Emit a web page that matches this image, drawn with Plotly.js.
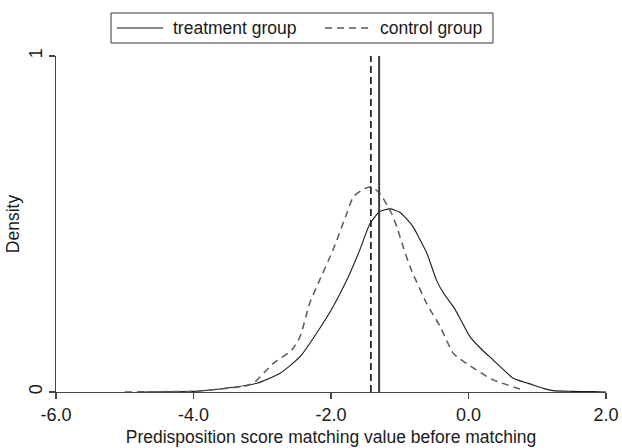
<!DOCTYPE html>
<html>
<head>
<meta charset="utf-8">
<script src="https://cdn.plot.ly/plotly-3.0.1.min.js"></script>
<style>html,body{margin:0;padding:0;background:#fff;}#chart{width:622px;height:448px;}</style>
</head>
<body>
<div id="chart"></div>
<script>
// Kernel density estimates
const treatmentX = [-4.8, -4.0, -3.76, -3.42, -3.08, -2.74, -2.45, -2.21, -1.97, -1.77, -1.60, -1.43, -1.29, -1.14, -1.00, -0.90, -0.80, -0.71, -0.60, -0.46, -0.35, -0.22, -0.10, 0.02, 0.20, 0.36, 0.50, 0.65, 0.80, 0.94, 1.10, 1.23, 1.50, 1.81, 2.0];
const treatmentY = [0.000, 0.002, 0.006, 0.014, 0.026, 0.056, 0.105, 0.175, 0.254, 0.333, 0.413, 0.502, 0.537, 0.545, 0.535, 0.515, 0.490, 0.455, 0.410, 0.330, 0.290, 0.254, 0.210, 0.165, 0.125, 0.095, 0.068, 0.041, 0.030, 0.021, 0.010, 0.004, 0.002, 0.001, 0.000];
const controlX = [-5.0, -4.5, -4.0, -3.76, -3.5, -3.28, -3.13, -2.84, -2.57, -2.45, -2.31, -2.185, -1.97, -1.77, -1.675, -1.55, -1.42, -1.29, -1.12, -1.04, -0.95, -0.85, -0.61, -0.41, -0.22, -0.03, 0.36, 0.80];
const controlY = [0.000, 0.001, 0.002, 0.006, 0.011, 0.016, 0.026, 0.085, 0.125, 0.165, 0.264, 0.324, 0.423, 0.532, 0.581, 0.601, 0.611, 0.591, 0.532, 0.490, 0.432, 0.373, 0.264, 0.194, 0.115, 0.085, 0.036, 0.006];
const treatmentMean = -1.30;
const controlMean = -1.42;
const xTickVals = [-6, -4, -2, 0, 2];
const xTickLabels = ["-6.0", "-4.0", "-2.0", "0.0", "2.0"];
const yTickVals = [0, 1];
const yTickLabels = ["0", "1"];
const seriesNames = ["treatment group", "control group"];

const FONT = "Liberation Sans, Arial, sans-serif";
const TREAT_LINE = {color: '#1a1a1a', width: 1.1};
const CTRL_LINE = {color: '#5a5a5a', width: 1.5, dash: '7px,5px'};

const traces = [
  {x: treatmentX, y: treatmentY, type: 'scatter', mode: 'lines', name: seriesNames[0],
   line: Object.assign({shape: 'spline', smoothing: 0.6}, TREAT_LINE)},
  {x: controlX, y: controlY, type: 'scatter', mode: 'lines', name: seriesNames[1],
   line: Object.assign({shape: 'spline', smoothing: 0.6}, CTRL_LINE)},
  {x: [controlMean, controlMean], y: [0, 1], type: 'scatter', mode: 'lines', showlegend: false,
   line: {color: '#111', width: 1.6, dash: '7px,4px'}, hoverinfo: 'skip'},
  {x: [treatmentMean, treatmentMean], y: [0, 1], type: 'scatter', mode: 'lines', showlegend: false,
   line: {color: '#3a3a3a', width: 2}, hoverinfo: 'skip'}
];

// Legend drawn as a boxed key above the plot (Stata style)
const legY = 1.0833;
const shapes = [
  {type: 'rect', xref: 'paper', yref: 'paper', x0: 0.1, x1: 0.7945, y0: 1.0387, y1: 1.128,
   line: {color: '#333', width: 1}, fillcolor: '#fff', layer: 'above'},
  {type: 'line', xref: 'paper', yref: 'paper', x0: 0.1104, x1: 0.1951, y0: legY, y1: legY, line: TREAT_LINE},
  {type: 'line', xref: 'paper', yref: 'paper', x0: 0.4891, x1: 0.5709, y0: legY, y1: legY, line: {color: CTRL_LINE.color, width: 1.4, dash: '7px,5px'}}
];
const annotations = [
  {xref: 'paper', yref: 'paper', x: 0.2122, y: legY, xanchor: 'left', yanchor: 'middle', showarrow: false,
   text: seriesNames[0], font: {family: FONT, size: 17.5, color: '#1a1a1a'}, borderpad: 0, xshift: -1},
  {xref: 'paper', yref: 'paper', x: 0.5891, y: legY, xanchor: 'left', yanchor: 'middle', showarrow: false,
   text: seriesNames[1], font: {family: FONT, size: 17.5, color: '#1a1a1a'}, borderpad: 0, xshift: -1}
];

const layout = {
  width: 622, height: 448,
  margin: {l: 56, r: 16, t: 56, b: 56},
  paper_bgcolor: '#fff', plot_bgcolor: '#fff',
  font: {family: FONT, size: 18, color: '#1a1a1a'},
  showlegend: false,
  shapes: shapes,
  annotations: annotations,
  xaxis: {
    range: [-6, 2], tickvals: xTickVals, ticktext: xTickLabels,
    showline: true, linecolor: '#444', linewidth: 1.3,
    ticks: 'outside', ticklen: 6, tickcolor: '#444', tickwidth: 1.3,
    showgrid: false, zeroline: false,
    tickfont: {family: FONT, size: 18, color: '#1a1a1a'},
    title: {text: 'Predisposition score matching value before matching', font: {family: FONT, size: 17.5, color: '#1a1a1a'}, standoff: 6}
  },
  yaxis: {
    range: [0, 1], tickvals: yTickVals, ticktext: yTickLabels, tickangle: -90,
    showline: true, linecolor: '#444', linewidth: 1.3,
    ticks: 'outside', ticklen: 6, tickcolor: '#444', tickwidth: 1.3,
    showgrid: true, gridcolor: '#e6e6e6', gridwidth: 1, zeroline: false,
    tickfont: {family: FONT, size: 18, color: '#1a1a1a'},
    title: {text: 'Density', font: {family: FONT, size: 17.5, color: '#1a1a1a'}, standoff: 1}
  }
};

Plotly.newPlot('chart', traces, layout, {displayModeBar: false, staticPlot: true});
</script>
</body>
</html>
